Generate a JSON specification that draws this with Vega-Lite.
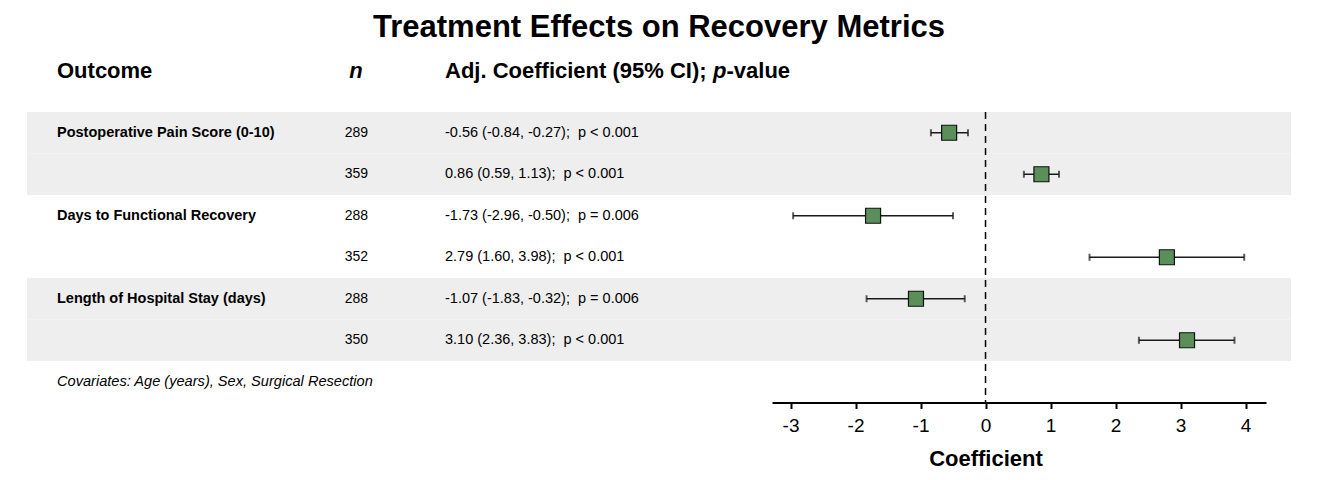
{
  "$schema": "https://vega.github.io/schema/vega-lite/v6.json",
  "padding": {"left": 27, "top": 12, "right": 0, "bottom": 0},
  "title": {"text": "Treatment Effects on Recovery Metrics", "fontSize": 31, "fontWeight": "bold", "anchor": "middle", "color": "black", "offset": 0, "font": "Liberation Sans"},
  "config": {"font": "Liberation Sans", "view": {"stroke": null}},
  "datasets": {
    "rows": [
      {"row": "1", "outcome": "Postoperative Pain Score (0-10)", "label": "Postoperative Pain Score (0-10)", "n": 289, "est": -0.56, "lo": -0.84, "hi": -0.27, "ci": "-0.56 (-0.84, -0.27); \u00a0p < 0.001"},
      {"row": "2", "outcome": "Postoperative Pain Score (0-10)", "label": "", "n": 359, "est": 0.86, "lo": 0.59, "hi": 1.13, "ci": "0.86 (0.59, 1.13); \u00a0p < 0.001"},
      {"row": "3", "outcome": "Days to Functional Recovery", "label": "Days to Functional Recovery", "n": 288, "est": -1.73, "lo": -2.96, "hi": -0.50, "ci": "-1.73 (-2.96, -0.50); \u00a0p = 0.006"},
      {"row": "4", "outcome": "Days to Functional Recovery", "label": "", "n": 352, "est": 2.79, "lo": 1.60, "hi": 3.98, "ci": "2.79 (1.60, 3.98); \u00a0p < 0.001"},
      {"row": "5", "outcome": "Length of Hospital Stay (days)", "label": "Length of Hospital Stay (days)", "n": 288, "est": -1.07, "lo": -1.83, "hi": -0.32, "ci": "-1.07 (-1.83, -0.32); \u00a0p = 0.006"},
      {"row": "6", "outcome": "Length of Hospital Stay (days)", "label": "", "n": 350, "est": 3.10, "lo": 2.36, "hi": 3.83, "ci": "3.10 (2.36, 3.83); \u00a0p < 0.001"}
    ],
    "header": [
      {"part": "outcome", "text": "Outcome"},
      {"part": "n", "text": "n"},
      {"part": "coef", "text": "Adj. Coefficient (95% CI);"},
      {"part": "p", "text": "p"},
      {"part": "value", "text": "-value"}
    ],
    "note": [{"row": "note", "text": "Covariates: Age (years), Sex, Surgical Resection"}],
    "ref": [{"ref": 0}]
  },
  "spacing": 0,
  "bounds": "flush",
  "vconcat": [
    {
      "width": 745,
      "height": 68,
      "data": {"name": "header"},
      "layer": [
        {"transform": [{"filter": "datum.part == 'outcome'"}],
         "mark": {"type": "text", "align": "left", "baseline": "alphabetic", "fontSize": 22, "fontWeight": "bold", "color": "black"},
         "encoding": {"text": {"field": "text"}, "x": {"datum": 30, "type": "quantitative", "scale": {"domain": [0, 745], "nice": false, "zero": false}, "axis": null}}},
        {"transform": [{"filter": "datum.part == 'n'"}],
         "mark": {"type": "text", "align": "center", "baseline": "alphabetic", "fontSize": 22, "fontWeight": "bold", "fontStyle": "italic", "color": "black"},
         "encoding": {"text": {"field": "text"}, "x": {"datum": 329, "type": "quantitative"}}},
        {"transform": [{"filter": "datum.part == 'coef'"}],
         "mark": {"type": "text", "align": "left", "baseline": "alphabetic", "fontSize": 22, "fontWeight": "bold", "color": "black"},
         "encoding": {"text": {"field": "text"}, "x": {"datum": 418, "type": "quantitative"}}},
        {"transform": [{"filter": "datum.part == 'p'"}],
         "mark": {"type": "text", "align": "left", "baseline": "alphabetic", "fontSize": 22, "fontWeight": "bold", "fontStyle": "italic", "color": "black"},
         "encoding": {"text": {"field": "text"}, "x": {"datum": 686, "type": "quantitative"}}},
        {"transform": [{"filter": "datum.part == 'value'"}],
         "mark": {"type": "text", "align": "left", "baseline": "alphabetic", "fontSize": 22, "fontWeight": "bold", "color": "black"},
         "encoding": {"text": {"field": "text"}, "x": {"datum": 699.5, "type": "quantitative"}}}
      ]
    },
    {
      "spacing": 0,
      "bounds": "flush",
      "hconcat": [
        {
          "width": 745,
          "height": 290.5,
          "layer": [
            {"data": {"name": "rows"},
             "mark": {"type": "rect"},
             "encoding": {
               "y": {"field": "row", "type": "nominal", "scale": {"domain": ["1", "2", "3", "4", "5", "6", "note"], "paddingInner": 0, "paddingOuter": 0}, "axis": null},
               "color": {"field": "outcome", "type": "nominal", "scale": {"domain": ["Postoperative Pain Score (0-10)", "Days to Functional Recovery", "Length of Hospital Stay (days)"], "range": ["#eeeeee", "#ffffff", "#eeeeee"]}, "legend": null}
             }},
            {"data": {"name": "rows"},
             "mark": {"type": "text", "align": "left", "baseline": "middle", "fontSize": 14.5, "fontWeight": "bold", "color": "black"},
             "encoding": {
               "text": {"field": "label"},
               "y": {"field": "row", "type": "nominal"},
               "x": {"datum": 30, "type": "quantitative", "scale": {"domain": [0, 745], "nice": false, "zero": false}, "axis": null}
             }},
            {"data": {"name": "rows"},
             "mark": {"type": "text", "align": "right", "baseline": "middle", "fontSize": 14, "color": "black"},
             "encoding": {
               "text": {"field": "n"},
               "y": {"field": "row", "type": "nominal"},
               "x": {"datum": 341, "type": "quantitative"}
             }},
            {"data": {"name": "rows"},
             "mark": {"type": "text", "align": "left", "baseline": "middle", "fontSize": 14.5, "color": "black"},
             "encoding": {
               "text": {"field": "ci"},
               "y": {"field": "row", "type": "nominal"},
               "x": {"datum": 418, "type": "quantitative"}
             }},
            {"data": {"name": "note"},
             "mark": {"type": "text", "align": "left", "baseline": "middle", "fontSize": 14.6, "fontStyle": "italic", "color": "black"},
             "encoding": {
               "text": {"field": "text"},
               "y": {"field": "row", "type": "nominal"},
               "x": {"datum": 30, "type": "quantitative"}
             }}
          ]
        },
        {
          "width": 494,
          "height": 290.5,
          "layer": [
            {"data": {"name": "rows"},
             "mark": {"type": "rect"},
             "encoding": {
               "y": {"field": "row", "type": "nominal", "scale": {"domain": ["1", "2", "3", "4", "5", "6", "note"], "paddingInner": 0, "paddingOuter": 0}, "axis": null},
               "color": {"field": "outcome", "type": "nominal", "scale": {"domain": ["Postoperative Pain Score (0-10)", "Days to Functional Recovery", "Length of Hospital Stay (days)"], "range": ["#eeeeee", "#ffffff", "#eeeeee"]}, "legend": null}
             }},
            {"data": {"name": "ref"},
             "mark": {"type": "rule", "strokeDash": [7, 5], "strokeWidth": 1.5, "color": "black"},
             "encoding": {
               "x": {"field": "ref", "type": "quantitative", "title": "Coefficient", "scale": {"domain": [-3.285, 4.315], "nice": false, "zero": false},
                     "axis": {"values": [-3, -2, -1, 0, 1, 2, 3, 4], "labelExpr": "'' + datum.value", "title": "Coefficient", "titleX": 213.5, "titleAlign": "center", "titleFontSize": 22, "titleFontWeight": "bold", "titleColor": "black", "titlePadding": 13, "labelFontSize": 19, "labelColor": "black", "labelPadding": 8, "labelFlush": false, "domainColor": "black", "domainWidth": 2, "tickColor": "black", "tickWidth": 2, "tickSize": 6, "grid": false}}
             }},
            {"data": {"name": "rows"},
             "mark": {"type": "errorbar", "ticks": {"size": 7, "thickness": 2, "color": "#1a1a1a"}, "rule": {"strokeWidth": 1.5, "color": "#1a1a1a"}},
             "encoding": {
               "x": {"field": "lo", "type": "quantitative", "title": "Coefficient"},
               "x2": {"field": "hi", "title": "Coefficient"},
               "y": {"field": "row", "type": "nominal"}
             }},
            {"data": {"name": "rows"},
             "mark": {"type": "point", "shape": "square", "filled": true, "size": 225, "fill": "#5a8f5a", "stroke": "#111111", "strokeWidth": 1.2, "opacity": 1},
             "encoding": {
               "x": {"field": "est", "type": "quantitative", "title": "Coefficient"},
               "y": {"field": "row", "type": "nominal"}
             }}
          ]
        },
        {
          "width": 25,
          "height": 290.5,
          "layer": [
            {"data": {"name": "rows"},
             "mark": {"type": "rect"},
             "encoding": {
               "y": {"field": "row", "type": "nominal", "scale": {"domain": ["1", "2", "3", "4", "5", "6", "note"], "paddingInner": 0, "paddingOuter": 0}, "axis": null},
               "color": {"field": "outcome", "type": "nominal", "scale": {"domain": ["Postoperative Pain Score (0-10)", "Days to Functional Recovery", "Length of Hospital Stay (days)"], "range": ["#eeeeee", "#ffffff", "#eeeeee"]}, "legend": null}
             }}
          ]
        }
      ]
    }
  ]
}
